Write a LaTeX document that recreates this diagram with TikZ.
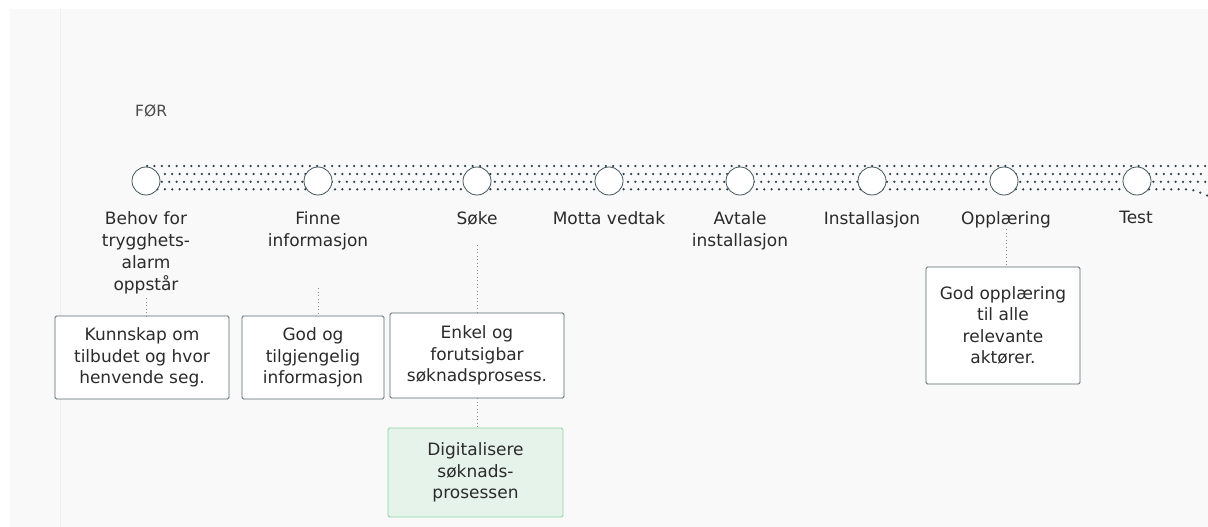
\documentclass[tikz,border=0pt]{standalone}
\usepackage{fontspec}
\setmainfont{DejaVu Sans}
\definecolor{txt}{HTML}{2B2B2B}
\definecolor{circc}{HTML}{44555B}
\definecolor{dotc}{HTML}{2D4048}
\definecolor{boxc}{HTML}{5A6A70}
\definecolor{bgc}{HTML}{F9F9F9}
\definecolor{stripc}{HTML}{EFEFEF}
\definecolor{greenfill}{HTML}{E5F3EA}
\definecolor{greendraw}{HTML}{8FD4A5}
\definecolor{connc}{HTML}{8A8A8A}
\begin{document}
\begin{tikzpicture}[x=1pt,y=-1pt,
  lbl/.style={font=\fontsize{17}{22}\selectfont, text=txt, align=center, anchor=north, inner sep=0pt},
  stepcircle/.style={circle, draw=circc, fill=white, minimum size=28pt, inner sep=0pt, line width=0.8pt},
  infobox/.style={draw=boxc, fill=white, line width=0.9pt, rounded corners=1.5pt, align=center,
    font=\fontsize{17}{21.5}\selectfont, text=txt, inner sep=0pt},
  greenbox/.style={infobox, draw=greendraw, fill=greenfill},
  conn/.style={draw=connc, line width=0.8pt, dash pattern=on 0.9pt off 2.6pt},
  band/.style={draw=dotc, line width=2.5pt, dash pattern=on 0pt off 7.4pt, line cap=round}]
\useasboundingbox (0,0) rectangle (1208,527);
\fill[white] (0,0) rectangle (1208,527);
\fill[bgc] (10,9) rectangle (1208,527);
\draw[stripc, line width=1pt] (60,9) -- (60,527);

\node[anchor=base west, inner sep=0pt, text=txt!85, font=\fontsize{15.5}{18}\selectfont] (for) at (135,116) {FØR};

% dotted band
\draw[band] (147,166) -- (1208,166);
\draw[band] (150,174) -- (1208,174);
\draw[band] (147,181.8) -- (1208,181.8);
\draw[band] (150,189.3) -- (1186,189.3) .. controls (1194,189.3) and (1199,192) .. (1208,196);

% step circles
\foreach \n/\x in {1/146,2/318,3/477,4/609,5/740,6/872,7/1004,8/1137}
  \node[stepcircle] (s\n) at (\x,181) {};

% labels
\node[lbl] (l1) at (146,211) {Behov for\\trygghets-\\alarm\\oppstår};
\node[lbl] (l2) at (318,211) {Finne\\informasjon};
\node[lbl] (l3) at (477,211) {Søke};
\node[lbl] (l4) at (609,211) {Motta vedtak};
\node[lbl] (l5) at (740,211) {Avtale\\installasjon};
\node[lbl] (l6) at (872,211) {Installasjon};
\node[lbl] (l7) at (1006,211) {Opplæring};
\node[lbl] (l8) at (1136,211) {Test};

% boxes
\node[infobox, minimum width=174pt, minimum height=83pt] (b1) at (142,357.5) {Kunnskap om\\tilbudet og hvor\\henvende seg.};
\node[infobox, minimum width=142pt, minimum height=83pt] (b2) at (313,357.5) {God og\\tilgjengelig\\informasjon};
\node[infobox, minimum width=174pt, minimum height=85pt] (b3) at (477,355.5) {Enkel og\\forutsigbar\\søknadsprosess.};
\node[greenbox, minimum width=175pt, minimum height=89pt] (b4) at (475.5,472.5) {Digitalisere\\søknads-\\prosessen};
\node[infobox, minimum width=154pt, minimum height=117pt] (b5) at (1003,325.5) {God opplæring\\til alle\\relevante\\aktører.};

% connectors
\coordinate (c1) at (146,298);
\coordinate (c2) at (318,288);
\coordinate (c3) at (477,245);
\coordinate (c7) at (1006,229);
\draw[conn] (c1) -- (c1 |- b1.north);
\draw[conn] (c2) -- (c2 |- b2.north);
\draw[conn] (c3) -- (b3.north);
\draw[conn] (b3.south) -- (b3.south |- b4.north);
\draw[conn] (c7) -- (c7 |- b5.north);
\end{tikzpicture}
\end{document}
